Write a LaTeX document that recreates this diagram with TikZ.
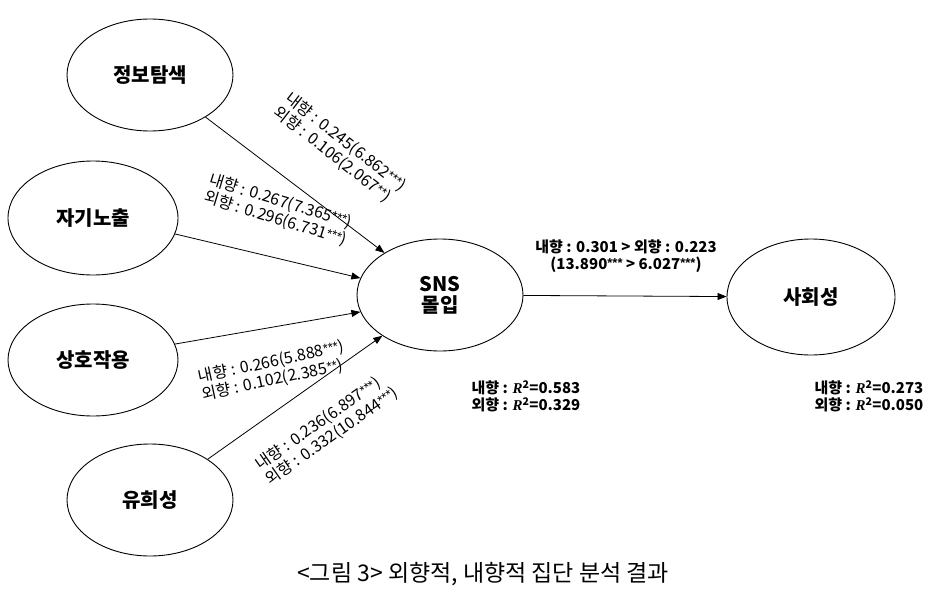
\documentclass[tikz,border=0pt]{standalone}
\usepackage{fontspec}
\setmainfont{Noto Sans CJK KR}
\newfontfamily\rfont{Liberation Serif}
\newfontfamily\starfont{Liberation Sans}
\usetikzlibrary{arrows.meta,shapes.geometric}
\newcommand{\Rsq}{{\rfont\bfseries\itshape R}\textsuperscript{2}}
\newcommand{\st}[1]{\raisebox{0.25ex}{\starfont\fontsize{13}{13}\selectfont #1}}
\begin{document}
\begin{tikzpicture}[x=1pt,y=-1pt,
  ell/.style={draw,ellipse,line width=0.9pt,minimum width=166pt,minimum height=112pt,font=\fontsize{20}{24}\selectfont\bfseries,align=center},
  conn/.style={line width=0.8pt,-{Triangle[length=9pt,width=7pt]}},
  lab/.style={font=\fontsize{16}{18}\selectfont,align=left,inner sep=0pt},
  rlab/.style={font=\fontsize{15}{17}\selectfont\bfseries,align=left,inner sep=0pt}]
\useasboundingbox (0,0) rectangle (929,594);
\node[ell] (info) at (150,75) {정보탐색};
\node[ell,minimum width=170pt,minimum height=114pt] (self) at (93,218) {자기노출};
\node[ell,minimum width=170pt,minimum height=112pt] (inter) at (93,360) {상호작용};
\node[ell] (fun) at (150,500) {유희성};
\node[ell] (sns) at (440,295) {SNS\\[-3pt]몰입};
\node[ell,minimum width=168pt,minimum height=116pt] (soc) at (811,297) {사회성};
\draw[conn] (info) -- (sns);
\draw[conn] (self.-11) -- (sns.168);
\draw[conn] (inter.11) -- (sns.192);
\draw[conn] (fun) -- (sns);
\draw[conn] (sns) -- (soc);
\node[lab,rotate=-38] (l1) at (340,149) {내향 : 0.245(6.862\st{***})\\외향 : 0.106(2.067\st{**})};
\node[lab,rotate=-17] (l2) at (278,210) {내향 : 0.267(7.365\st{***})\\외향 : 0.296(6.731\st{***})};
\node[lab,rotate=12] (l3) at (273,371) {내향 : 0.266(5.888\st{***})\\외향 : 0.102(2.385\st{**})};
\node[lab,rotate=35] (l4) at (327,429) {내향 : 0.236(6.897\st{***})\\외향 : 0.332(10.844\st{***})};
\node[rlab,align=center] (l5) at (626,256) {내향 : 0.301 > 외향 : 0.223\\(13.890\st{***} > 6.027\st{***})};
\node[rlab] (r1) at (526,396) {내향 : \Rsq=0.583\\외향 : \Rsq=0.329};
\node[rlab] (r2) at (869,396) {내향 : \Rsq=0.273\\외향 : \Rsq=0.050};
\node[font=\fontsize{23}{26}\selectfont] (cap) at (483,574) {<그림 3> 외향적, 내향적 집단 분석 결과};
\end{tikzpicture}
\end{document}
